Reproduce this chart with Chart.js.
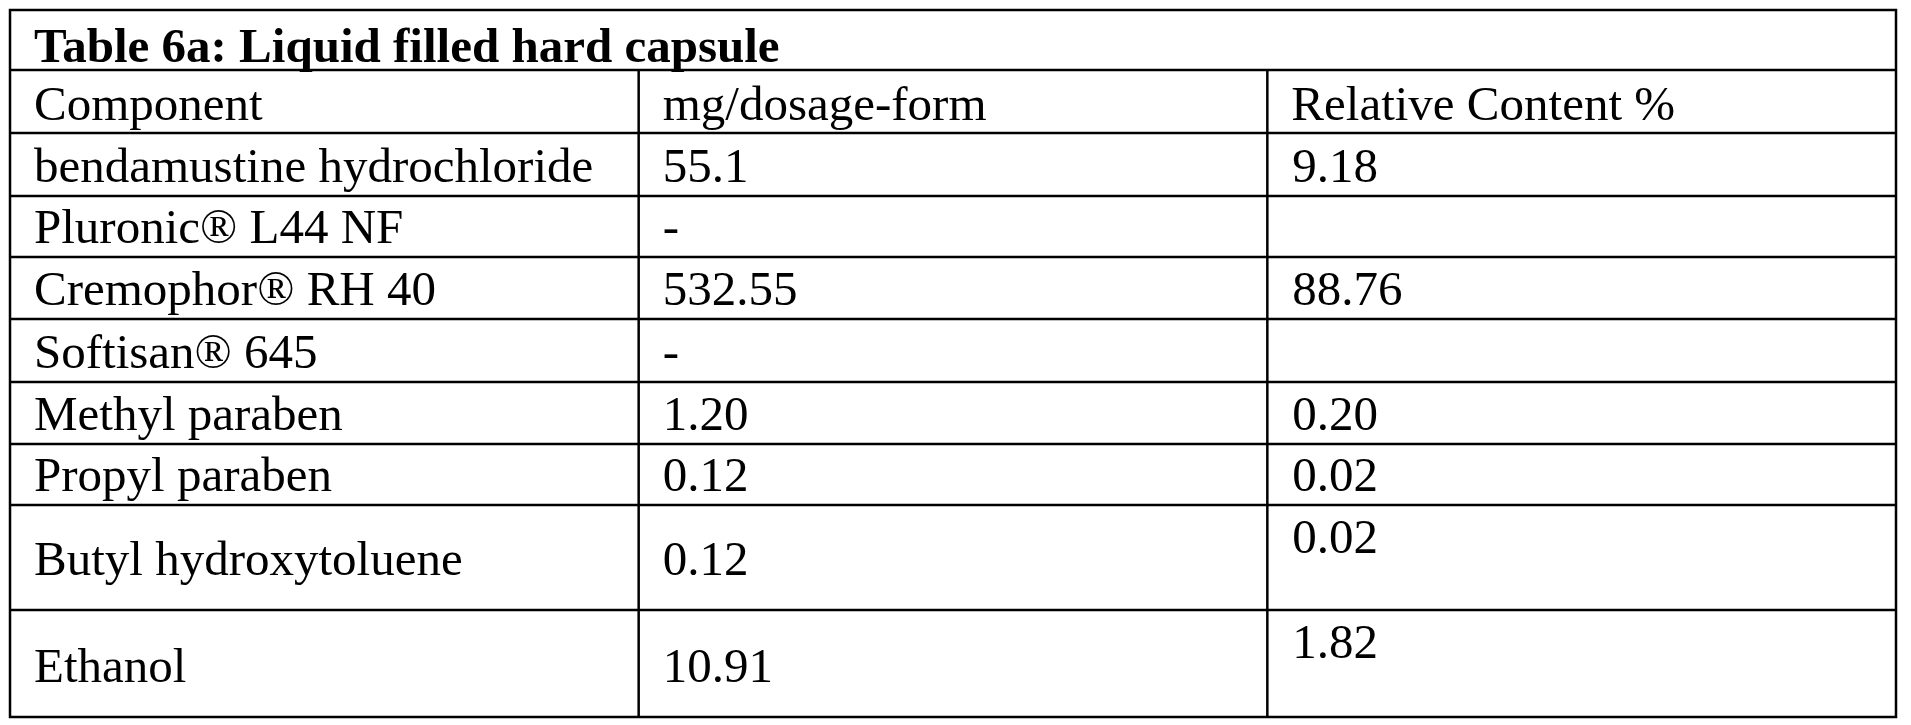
<!DOCTYPE html>
<html>
<head>
<meta charset="utf-8">
<script src="https://cdn.jsdelivr.net/npm/chart.js@4"></script>
<style>
	html, body { margin: 0; padding: 0; background: #ffffff; }
	#wrap { width: 1911px; height: 725px; }
</style>
</head>
<body>
<div id="wrap"><canvas id="tbl"></canvas></div>
<script>
(function() {
	'use strict';

	// Table content
	const title = 'Table 6a: Liquid filled hard capsule';
	const headers = ['Component', 'mg/dosage-form', 'Relative Content %'];
	const components = [
		'bendamustine hydrochloride',
		'Pluronic® L44 NF',
		'Cremophor® RH 40',
		'Softisan® 645',
		'Methyl paraben',
		'Propyl paraben',
		'Butyl hydroxytoluene',
		'Ethanol'
	];
	const mgPerDose = ['55.1', '-', '532.55', '-', '1.20', '0.12', '0.12', '10.91'];
	const relContent = ['9.18', '', '88.76', '', '0.20', '0.02', '0.02', '1.82'];

	// Row heights in y-scale units (title, header, then one per component)
	const rowHeights = [60, 63, 63, 61, 62, 63, 62, 61, 105, 107];
	const rowEdges = [0];
	rowHeights.forEach(function(h) {
		rowEdges.push(rowEdges[rowEdges.length - 1] + h);
	});
	const totalHeight = rowEdges[rowEdges.length - 1];

	const FONT = '"Liberation Serif", "DejaVu Serif", serif';

	const tablePlugin = {
		id: 'tablePlugin',
		afterDraw: function(chart) {
			const ctx = chart.ctx;
			const x = chart.scales.x;
			const y = chart.scales.y;
			const px = function(v) { return x.getPixelForValue(v); };
			const py = function(v) { return y.getPixelForValue(v); };

			ctx.save();
			ctx.strokeStyle = '#000000';
			ctx.lineWidth = 2.5;

			// Outer border
			ctx.strokeRect(px(0), py(0), px(3) - px(0), py(totalHeight) - py(0));

			// Horizontal rules
			for (let i = 1; i < rowEdges.length - 1; i++) {
				ctx.beginPath();
				ctx.moveTo(px(0), py(rowEdges[i]));
				ctx.lineTo(px(3), py(rowEdges[i]));
				ctx.stroke();
			}

			// Column rules (not through the title row)
			[1, 2].forEach(function(c) {
				ctx.beginPath();
				ctx.moveTo(px(c), py(rowEdges[1]));
				ctx.lineTo(px(c), py(totalHeight));
				ctx.stroke();
			});

			ctx.fillStyle = '#000000';
			ctx.textAlign = 'left';
			ctx.textBaseline = 'alphabetic';

			// Title
			ctx.font = 'bold 49px ' + FONT;
			ctx.fillText(title, px(0) + 24, py(rowEdges[1]) - 8);

			ctx.font = '49px ' + FONT;
			headers.forEach(function(h, c) {
				ctx.fillText(h, px(c) + 24, py(rowEdges[2]) - 13);
			});

			components.forEach(function(name, i) {
				const r = i + 2;
				const top = py(rowEdges[r]);
				const bottom = py(rowEdges[r + 1]);
				const tall = rowHeights[r] > 80;
				const base = tall ? bottom - 35 : bottom - 14;
				ctx.fillText(name, px(0) + 24, base);
				ctx.fillText(mgPerDose[i], px(1) + 24, base);
				ctx.fillText(relContent[i], px(2) + 25, tall ? top + 48 : base);
			});

			ctx.restore();
		}
	};

	new Chart(document.getElementById('tbl'), {
		type: 'scatter',
		data: { datasets: [{ data: [] }] },
		options: {
			responsive: true,
			maintainAspectRatio: false,
			animation: false,
			events: [],
			layout: { padding: { left: 10, top: 10, right: 15, bottom: 8 } },
			plugins: { legend: { display: false }, tooltip: { enabled: false } },
			scales: {
				x: { type: 'linear', min: 0, max: 3, display: false },
				y: { type: 'linear', min: 0, max: totalHeight, reverse: true, display: false }
			}
		},
		plugins: [tablePlugin]
	});
})();
</script>
</body>
</html>
